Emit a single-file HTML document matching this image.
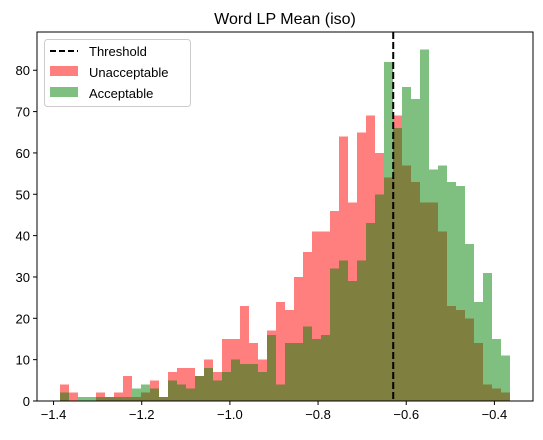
<!DOCTYPE html>
<html><head><meta charset="utf-8"><style>
body{margin:0;background:#fff}
text{font-family:"Liberation Sans","DejaVu Sans",sans-serif;fill:#000}
</style></head><body>
<svg id="chart" width="543" height="435" xmlns="http://www.w3.org/2000/svg">
<rect width="543" height="435" fill="#fff"/>
<text x="285" y="24" font-size="16" text-anchor="middle">Word LP Mean (iso)</text>
<g id="bars" shape-rendering="crispEdges"></g>
<g id="axes"></g>
</svg>
<script>
const binStart = -1.3864;
const binEnd = -0.3636;
const unacceptable = [4,2,0,0,2,1,2,6,1,2,5,1,7,8,8,6,10,7,15,15,23,14,10,17,24,22,30,36,41,41,46,64,48,65,69,60,54,69,57,53,48,48,41,23,22,20,14,4,3,2];
const acceptable = [2,0,1,1,1,1,1,1,3,4,3,1,5,4,3,6,8,5,7,10,9,9,7,16,4,14,14,18,15,16,32,34,29,34,43,50,82,66,76,73,85,56,57,53,52,38,24,31,15,11];
const threshold = [-0.6295];
const xTicks = [-1.4,-1.2,-1.0,-0.8,-0.6,-0.4];
const xTickLabels = ["\u22121.4","\u22121.2","\u22121.0","\u22120.8","\u22120.6","\u22120.4"];
const yTicks = [0,10,20,30,40,50,60,70,80];

const L=37,R=533,T=32,B=401;
const nb = unacceptable.length;
const bw = (binEnd-binStart)/nb;
const ymax = Math.max(...unacceptable,...acceptable)*1.05;
const xmin = binStart-0.05*(binEnd-binStart), xmax = binEnd+0.05*(binEnd-binStart);
const sx = v => L+(v-xmin)/(xmax-xmin)*(R-L);
const sy = v => B-v/ymax*(B-T);
const NS="http://www.w3.org/2000/svg";
const bars=document.getElementById('bars');
const axes=document.getElementById('axes');
function mk(tag,attrs,parent){const e=document.createElementNS(NS,tag);for(const k in attrs)e.setAttribute(k,attrs[k]);parent.appendChild(e);return e;}
function drawSeries(arr,color,name){
  arr.forEach((v,i)=>{
    if(v<=0)return;
    const x0=Math.round(sx(binStart+i*bw)),x1=Math.round(sx(binStart+(i+1)*bw));
    const r=mk('rect',{x:x0,y:sy(v),width:x1-x0,height:B-sy(v),fill:color,'fill-opacity':0.5},bars);
    
    
  });
}
drawSeries(unacceptable,'#ff0000','unacceptable');
drawSeries(acceptable,'#008000','acceptable');
threshold.forEach(t=>{
  const l=mk('line',{x1:sx(t),x2:sx(t),y1:T,y2:B,stroke:'#000','stroke-width':2,'stroke-dasharray':'7,3'},axes);
  
  
});
const fr=mk('rect',{x:L,y:T,width:R-L,height:B-T,fill:'none',stroke:'#000','stroke-width':1},axes);


xTicks.forEach((t,i)=>{
  const x=sx(t);
  const tk=mk('line',{x1:x,x2:x,y1:B,y2:B+4,stroke:'#000'},axes);
  
  
  const tx=mk('text',{x:x,y:B+18,'font-size':13,'text-anchor':'middle'},axes);
  tx.textContent=xTickLabels[i];
  
  
});
yTicks.forEach(t=>{
  const y=sy(t);
  const tk=mk('line',{x1:L-4,x2:L,y1:y,y2:y,stroke:'#000'},axes);
  
  
  const tx=mk('text',{x:L-7,y:y+5,'font-size':13,'text-anchor':'end'},axes);
  tx.textContent=String(t);
  
  
});
const lg=mk('g',{},axes);


mk('rect',{x:44.5,y:39.5,width:146,height:67,rx:3,fill:'#fff','fill-opacity':0.8,stroke:'#ccc'},lg);
const ll=mk('line',{x1:50,x2:78,y1:51,y2:51,stroke:'#000','stroke-width':2,'stroke-dasharray':'6,3'},lg);


const r1=mk('rect',{x:50,y:66,width:28,height:10,fill:'#ff0000','fill-opacity':0.5},lg);


const r2=mk('rect',{x:50,y:87,width:28,height:10,fill:'#008000','fill-opacity':0.5},lg);


[["Threshold",56],["Unacceptable",77],["Acceptable",98]].forEach(([s,y])=>{
  const t=mk('text',{x:89,y:y,'font-size':13},lg);
  t.textContent=s;
  
  
});
</script>
</body></html>
